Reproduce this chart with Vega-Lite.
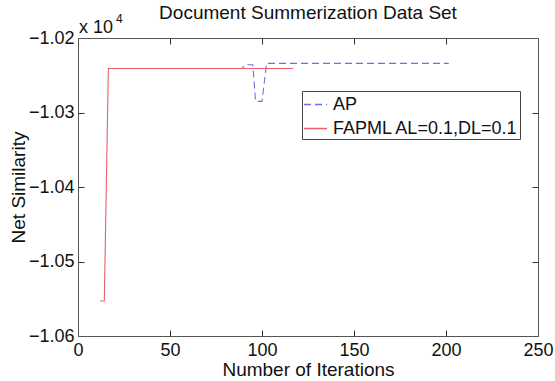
{
  "$schema": "https://vega.github.io/schema/vega-lite/v6.json",
  "width": 460,
  "height": 298,
  "autosize": {"type": "none"},
  "padding": {"left": 78, "top": 38, "right": 17, "bottom": 45},
  "background": "white",
  "title": {"text": "Document Summerization  Data Set", "fontSize": 19, "font": "Liberation Sans", "fontWeight": "normal", "color": "#111", "offset": -10, "anchor": "middle"},
  "config": {
    "view": {"stroke": "#555", "strokeWidth": 1},
    "font": "Liberation Sans",
    "axis": {"grid": false, "ticks": true, "domainColor": "#555", "tickColor": "#333", "tickWidth": 1, "labelColor": "#111", "titleColor": "#111", "labelFont": "Liberation Sans", "titleFont": "Liberation Sans", "labelFontSize": 18, "titleFontSize": 19, "titleFontWeight": "normal"}
  },
  "datasets": {
    "lines": [
      {"series": "AP", "iter": 87, "sim": -10241},
      {"series": "AP", "iter": 89, "sim": -10241},
      {"series": "AP", "iter": 91, "sim": -10236},
      {"series": "AP", "iter": 95, "sim": -10236},
      {"series": "AP", "iter": 96.5, "sim": -10285},
      {"series": "AP", "iter": 100, "sim": -10285},
      {"series": "AP", "iter": 102.5, "sim": -10234},
      {"series": "AP", "iter": 201.5, "sim": -10234},
      {"series": "FAPML AL=0.1,DL=0.1", "iter": 12, "sim": -10553},
      {"series": "FAPML AL=0.1,DL=0.1", "iter": 14.3, "sim": -10553},
      {"series": "FAPML AL=0.1,DL=0.1", "iter": 16.5, "sim": -10241},
      {"series": "FAPML AL=0.1,DL=0.1", "iter": 117, "sim": -10241}
    ],
    "note": [
      {"iter": 0, "sim": -10200, "txt": "x 10", "sup": "4"}
    ]
  },
  "resolve": {"axis": {"x": "independent", "y": "independent"}},
  "layer": [
    {
      "data": {"name": "lines"},
      "mark": {"type": "line", "strokeWidth": 1.1, "interpolate": "linear"},
      "encoding": {
        "x": {"field": "iter", "type": "quantitative", "scale": {"domain": [0, 250], "nice": false},
              "axis": {"orient": "bottom", "values": [0, 50, 100, 150, 200, 250], "ticks": false, "labelPadding": 5, "labelFlush": false, "title": "Number of  Iterations", "titlePadding": 1}},
        "y": {"field": "sim", "type": "quantitative", "scale": {"domain": [-10600, -10200], "nice": false, "zero": false},
              "axis": {"orient": "left", "values": [-10600, -10500, -10400, -10300, -10200], "ticks": false, "labelPadding": 4, "labelFlush": false, "labelExpr": "format(datum.value/10000, '.2f')", "title": "Net Similarity", "titlePadding": 0}},
        "color": {"field": "series", "type": "nominal", "scale": {"domain": ["AP", "FAPML AL=0.1,DL=0.1"], "range": ["#7070e4", "#e8606a"]},
                  "legend": {"title": null, "orient": "none", "legendX": 224, "legendY": 53, "strokeColor": "#444", "fillColor": "white", "padding": 1, "symbolType": "stroke", "symbolSize": 529, "symbolStrokeWidth": 1.3, "labelFontSize": 18, "labelColor": "#111", "labelFont": "Liberation Sans", "labelLimit": 0, "rowPadding": 2, "labelOffset": 5}},
        "strokeDash": {"field": "series", "type": "nominal", "scale": {"domain": ["AP", "FAPML AL=0.1,DL=0.1"], "range": [[7, 4], [1, 0]]}, "legend": null},
        "detail": {"field": "series"}
      }
    },
    {
      "data": {"name": "lines"},
      "mark": {"type": "point", "opacity": 0},
      "encoding": {
        "x": {"field": "iter", "type": "quantitative", "scale": {"domain": [0, 250], "nice": false},
              "axis": {"orient": "top", "values": [50, 100, 150, 200], "offset": -6, "ticks": true, "tickSize": 6, "tickColor": "#333", "domain": false, "labels": false, "title": null}},
        "y": {"field": "sim", "type": "quantitative", "scale": {"domain": [-10600, -10200], "nice": false, "zero": false},
              "axis": {"orient": "right", "values": [-10500, -10400, -10300], "offset": -6, "ticks": true, "tickSize": 6, "tickColor": "#333", "domain": false, "labels": false, "title": null}}
      }
    },
    {
      "data": {"name": "note"},
      "mark": {"type": "text", "align": "left", "baseline": "alphabetic", "dx": 1, "dy": -5, "fontSize": 18, "font": "Liberation Sans", "color": "#111"},
      "encoding": {
        "x": {"field": "iter", "type": "quantitative", "scale": {"domain": [0, 250], "nice": false},
              "axis": {"orient": "bottom", "values": [50, 100, 150, 200], "offset": -6, "ticks": true, "tickSize": 6, "tickColor": "#333", "domain": false, "labels": false, "title": null}},
        "y": {"field": "sim", "type": "quantitative", "scale": {"domain": [-10600, -10200], "nice": false, "zero": false},
              "axis": {"orient": "left", "values": [-10500, -10400, -10300], "offset": -6, "ticks": true, "tickSize": 6, "tickColor": "#333", "domain": false, "labels": false, "title": null}},
        "text": {"field": "txt"}
      }
    },
    {
      "data": {"name": "note"},
      "mark": {"type": "text", "align": "left", "baseline": "alphabetic", "dx": 38, "dy": -15, "fontSize": 12, "font": "Liberation Sans", "color": "#111"},
      "encoding": {
        "x": {"field": "iter", "type": "quantitative", "axis": null},
        "y": {"field": "sim", "type": "quantitative", "axis": null},
        "text": {"field": "sup"}
      }
    }
  ]
}
